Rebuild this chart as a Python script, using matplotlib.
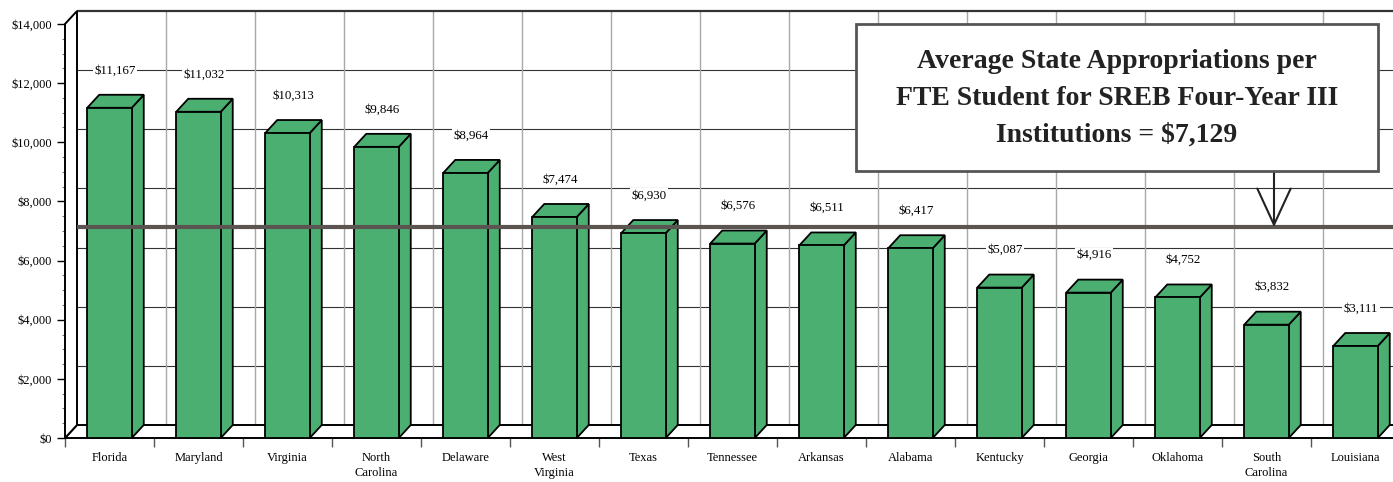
import numpy as np
import matplotlib.pyplot as plt
from matplotlib.patches import Polygon, Rectangle
from matplotlib.transforms import IdentityTransform, offset_copy

# -----------------------------
# Data
# -----------------------------
states = ["Florida", "Maryland", "Virginia", "North\nCarolina", "Delaware",
          "West\nVirginia", "Texas", "Tennessee", "Arkansas", "Alabama",
          "Kentucky", "Georgia", "Oklahoma", "South\nCarolina", "Louisiana"]
appropriations = [11167, 11032, 10313, 9846, 8964, 7474, 6930, 6576, 6511,
                  6417, 5087, 4916, 4752, 3832, 3111]
sreb_average = 7129
y_ticks = np.arange(0, 14001, 2000)

plt.rcParams["font.family"] = ["Liberation Serif", "DejaVu Serif"]

W, H = 1393, 482
fig = plt.figure(figsize=(W / 100, H / 100), dpi=100)
ax = fig.add_axes([65 / W, 44 / H, 1335 / W, 414 / H])
n = len(states)
x = np.arange(n)
ax.set_xlim(-0.5, n - 0.5)
ax.set_ylim(0, 14000)
for s in ax.spines.values():
    s.set_visible(False)

# depth of the pseudo-3D box in pixels
DX, DY = 12, 13
back = offset_copy(ax.transData, fig=fig, x=DX, y=DY, units="dots")
back_x = offset_copy(ax.transData, fig=fig, x=DX, y=0, units="dots")
ident = IdentityTransform()


def px(xv, yv, is_back=False):
    X, Y = ax.transData.transform((xv, yv))
    return (X + DX, Y + DY) if is_back else (X, Y)


green = "#4caf72"

# -----------------------------
# Back wall grid
# -----------------------------
ax.hlines(y_ticks[1:-1], -0.5, n - 0.5, transform=back, colors="#333333",
          lw=0.8, zorder=1, clip_on=False)
ax.vlines(np.arange(1, n) - 0.5, 0, 14000, transform=back, colors="#a8a8a8",
          lw=1.0, zorder=1, clip_on=False)
ax.hlines(14000, -0.5, n - 0.5, transform=back, colors="#333333", lw=1.6,
          zorder=1, clip_on=False)

# floor and left wall
floor = [px(-0.5, 0), px(n - 0.5, 0), px(n - 0.5, 0, True), px(-0.5, 0, True)]
ax.add_patch(Polygon(floor, closed=True, transform=ident, fc="white",
                     ec="black", lw=1.4, zorder=2, clip_on=False))
wall = [px(-0.5, 0), px(-0.5, 14000), px(-0.5, 14000, True), px(-0.5, 0, True)]
ax.add_patch(Polygon(wall, closed=True, transform=ident, fc="white",
                     ec="black", lw=1.4, zorder=2, clip_on=False))

# -----------------------------
# Bars
# -----------------------------
bw = 0.5
for i, v in zip(x, appropriations):
    side = [px(i + bw / 2, 0), px(i + bw / 2, v),
            px(i + bw / 2, v, True), px(i + bw / 2, 0, True)]
    top = [px(i - bw / 2, v), px(i + bw / 2, v),
           px(i + bw / 2, v, True), px(i - bw / 2, v, True)]
    for poly in (side, top):
        ax.add_patch(Polygon(poly, closed=True, transform=ident, fc=green,
                             ec="black", lw=1.3, zorder=3, clip_on=False))
ax.bar(x, appropriations, width=bw, color=green, edgecolor="black",
       linewidth=1.3, zorder=4)

for i, v in zip(x, appropriations):
    ax.annotate(f"${v:,}", xy=(i, v), xytext=(4, 27),
                textcoords="offset points", ha="center", va="center",
                fontsize=9.3, zorder=5,
                bbox=dict(fc="white", ec="none", pad=1))

# average line
ax.hlines(sreb_average, -0.5, n - 0.5, transform=back_x, colors="#5a5550",
          lw=3, zorder=6, clip_on=False)

# -----------------------------
# Ticks
# -----------------------------
ax.set_yticks(y_ticks)
ax.set_yticklabels([f"${v:,}" for v in y_ticks], fontsize=9)
ax.set_yticks(np.arange(0, 14001, 500), minor=True)
ax.tick_params(axis="y", which="major", length=5.8, width=1, pad=3.5)
ax.tick_params(axis="y", which="minor", length=2.2, width=0.8,
               color="#777777")

ax.set_xticks(x)
ax.set_xticklabels(states, fontsize=9)
ax.set_xticks(np.arange(n + 1) - 0.5, minor=True)
ax.tick_params(axis="x", which="major", length=0, pad=10)
ax.tick_params(axis="x", which="minor", length=6.5, width=1, color="#555555")
for lbl in ax.get_xticklabels():
    lbl.set_linespacing(1.3)
    lbl.set_va("top")

# -----------------------------
# Annotation box with arrow
# -----------------------------
bx0, bx1, by0, by1 = 856, 1378, 24, 171
fig.add_artist(Rectangle((bx0 / W, 1 - by1 / H), (bx1 - bx0) / W,
                         (by1 - by0) / H, transform=fig.transFigure,
                         fc="white", ec="#555555", lw=2, zorder=7))
fig.text((bx0 + bx1) / 2 / W, 1 - (by0 + by1 + 2) / 2 / H,
         "Average State Appropriations per\nFTE Student for SREB Four-Year III\n"
         f"Institutions = ${sreb_average:,}",
         ha="center", va="center", fontsize=20, fontweight="bold",
         linespacing=1.62, color="#222222", zorder=8)
ax.annotate("", xy=(1274 / W, sreb_average), xycoords=("figure fraction", "data"),
            xytext=(1274 / W, 1 - by1 / H), textcoords="figure fraction",
            arrowprops=dict(arrowstyle="->,head_length=2.6,head_width=1.2",
                            lw=1.5, color="#222222", shrinkA=0, shrinkB=0,
                            mutation_scale=10),
            zorder=8, annotation_clip=False)

fig.savefig("out.png", dpi=100)
